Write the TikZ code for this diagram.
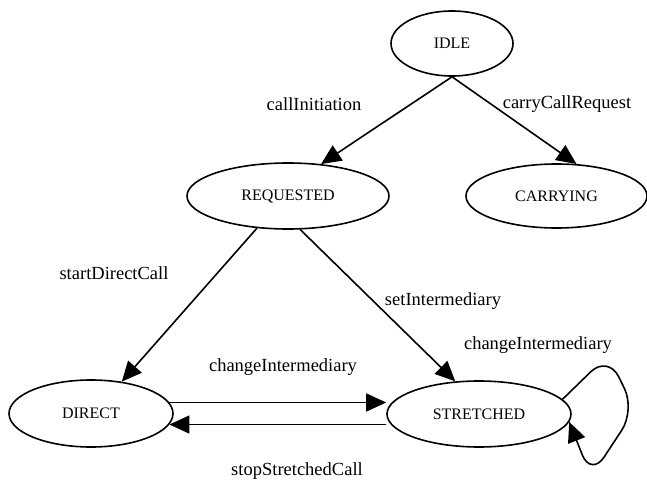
\documentclass[tikz,border=0pt]{standalone}
\usepackage{fontspec}
\setmainfont{Liberation Serif}
\usetikzlibrary{shapes.geometric,arrows.meta}
\begin{document}
\begin{tikzpicture}[x=1pt,y=1pt,
  state/.style={draw,ellipse,line width=1.6pt,inner sep=0pt,font=\fontsize{16}{18}\selectfont},
  edge/.style={line width=1.6pt,-{Triangle[length=20pt,width=18pt]}},
  elabel/.style={font=\fontsize{18.5}{21}\selectfont,inner sep=0pt}]
\useasboundingbox (0,0) rectangle (647,483);
% states
\node[state,minimum width=122pt,minimum height=65pt] (idle) at (452,439.5) {IDLE\hspace{22pt}};
\node[state,minimum width=202pt,minimum height=66pt] (req) at (288,287) {REQUESTED\hspace{20pt}};
\node[state,minimum width=181pt,minimum height=64pt] (car) at (556.5,287) {CARRYING\hspace{16pt}};
\node[state,minimum width=164pt,minimum height=67pt] (dir) at (91,69.5) {DIRECT\hspace{28pt}};
\node[state,minimum width=184pt,minimum height=66pt] (str) at (479,69) {STRETCHED\hspace{12pt}};
% edges
\draw[edge] (idle.south) -- (req.44);
\draw[edge] (idle.south) -- (car.58);
\draw[edge] (req.226) -- (dir.46);
\draw[edge] (req.290.6) -- (str.126);
\draw[edge] (dir.8) -- (dir.8 -| str.west);
\draw[edge] (str.west |- dir.-8) -- (dir.-8);
\draw[edge,rounded corners=24pt] (str.10) -- (608,128) -- (635,73) -- (591,6) -- (str.-5);
% labels
\node[elabel] (l1) at (314,379) {callInitiation};
\node[elabel] (l2) at (567,379) {carryCallRequest};
\node[elabel] (l3) at (114,210) {startDirectCall};
\node[elabel] (l4) at (443,182) {setIntermediary};
\node[elabel] (l5) at (283,116) {changeIntermediary};
\node[elabel] (l6) at (297,12) {stopStretchedCall};
\node[elabel] (l7) at (538,138) {changeIntermediary};
\end{tikzpicture}
\end{document}
